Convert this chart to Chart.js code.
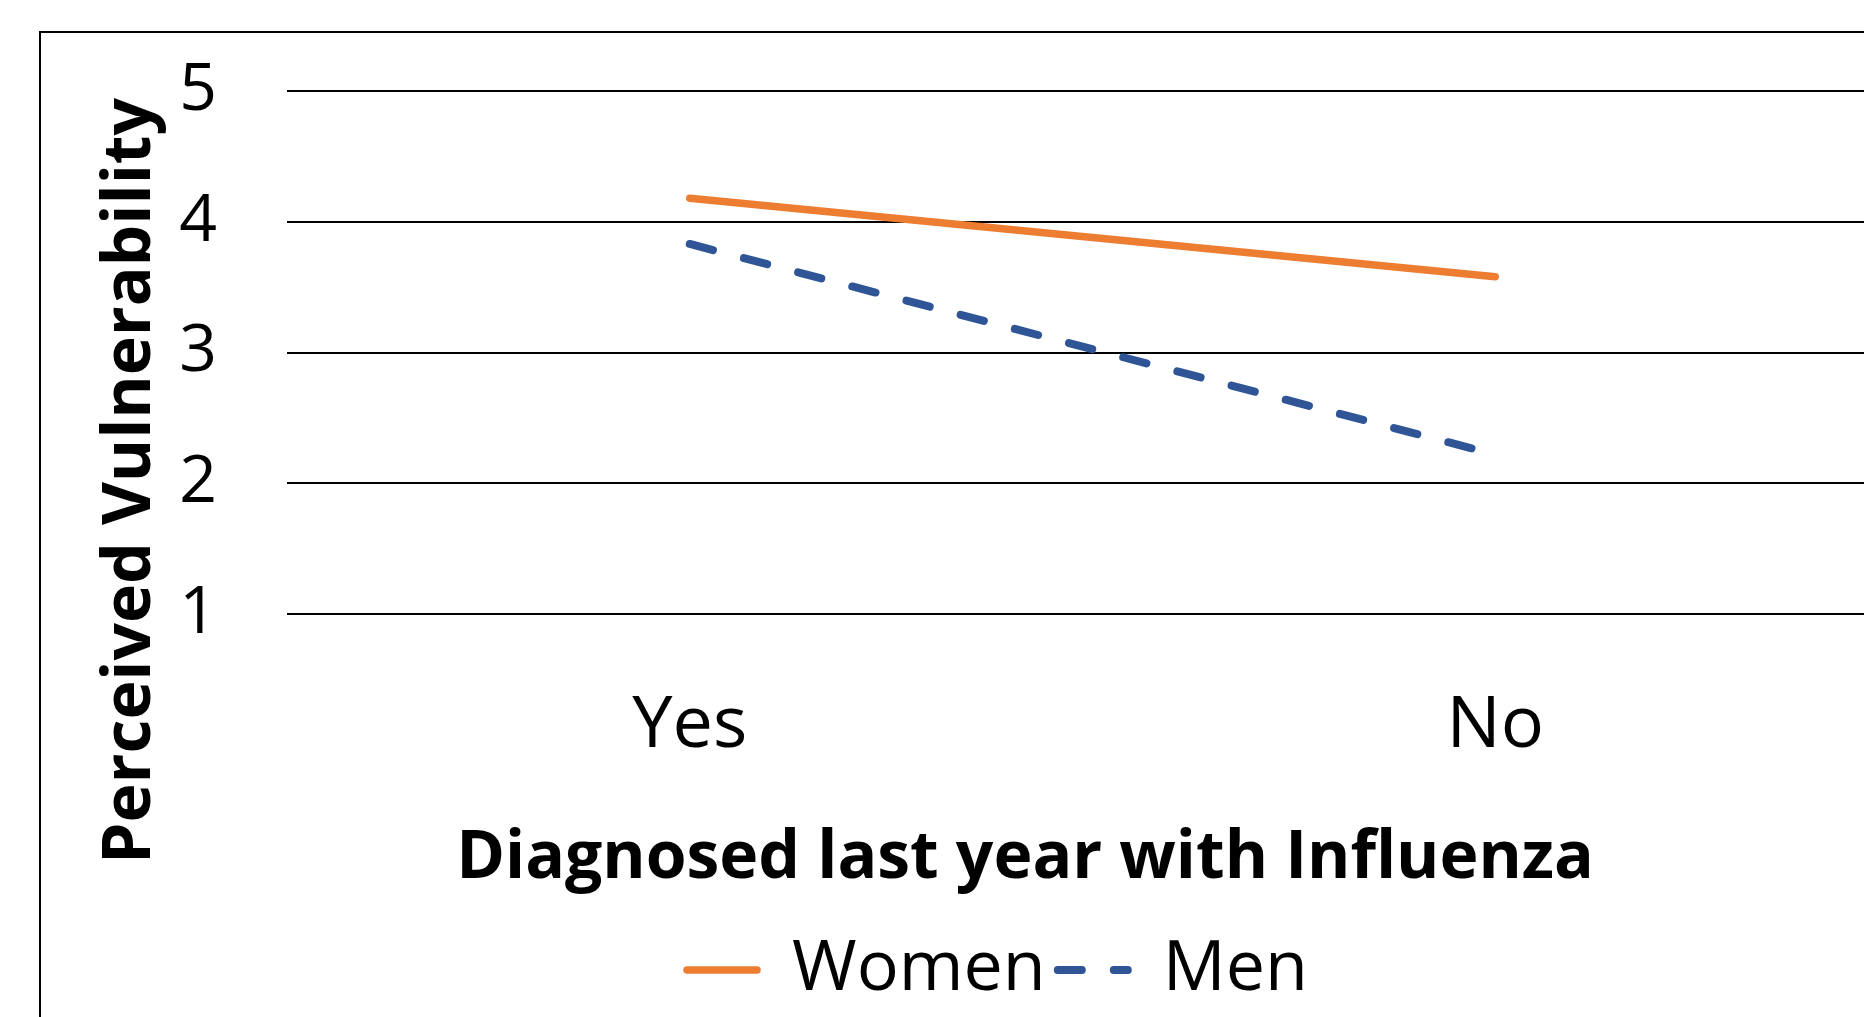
<!DOCTYPE html>
<html>
<head>
<meta charset="utf-8">
<script src="https://cdn.jsdelivr.net/npm/chart.js@4.4.0/dist/chart.umd.min.js"></script>
<style>
  html, body { margin: 0; padding: 0; background: #fff; overflow: hidden; }
  #box { position: absolute; left: 0; top: 0; width: 1960px; height: 1017px; }
</style>
</head>
<body>
<div id="box"><canvas id="chart"></canvas></div>
<script>
// data
const categories = ['Yes', 'No'];
const women = [4.18, 3.58];
const men = [3.83, 2.22];
const seriesNames = ['Women', 'Men'];
const yTicks = [1, 2, 3, 4, 5];
const xTitle = 'Diagnosed last year with Influenza';
const yTitle = 'Perceived Vulnerability';

const orange = '#ED7D31';
const blue = '#2F5597';
const font = 'Open Sans';

// frame around the chart + the two axis titles (placed like Excel does)
const extras = {
  id: 'extras',
  beforeDraw(chart) {
    let ctx = chart.ctx;
    ctx.save();
    ctx.strokeStyle = '#000';
    ctx.lineWidth = 2;
    ctx.strokeRect(40, 32, chart.width, chart.height);
    ctx.restore();
  },
  afterDraw(chart) {
    let ctx = chart.ctx;
    ctx.save();
    ctx.fillStyle = '#000';
    ctx.font = 'bold 66px "' + font + '"';
    ctx.textAlign = 'center';
    ctx.textBaseline = 'alphabetic';
    ctx.fillText(xTitle, 1025, 878);
    ctx.translate(150, 481);
    ctx.rotate(-Math.PI / 2);
    ctx.fillText(yTitle, 0, 0);
    ctx.restore();
  }
};

new Chart(document.getElementById('chart'), {
  type: 'line',
  data: {
    labels: categories,
    datasets: [
      {
        label: seriesNames[0],
        data: women,
        borderColor: orange,
        backgroundColor: orange,
        borderWidth: 7.5,
        borderCapStyle: 'round',
        pointRadius: 0,
        tension: 0
      },
      {
        label: seriesNames[1],
        data: men,
        borderColor: blue,
        backgroundColor: blue,
        borderWidth: 8,
        borderDash: [24, 32],
        borderCapStyle: 'round',
        pointRadius: 0,
        tension: 0
      }
    ]
  },
  options: {
    responsive: true,
    maintainAspectRatio: false,
    animation: false,
    layout: { padding: { left: 97, top: 91, right: 62, bottom: 2 } },
    scales: {
      x: {
        offset: true,
        grid: { display: false },
        border: { display: false },
        ticks: {
          color: '#000',
          padding: 61,
          maxRotation: 0,
          font: { family: font, size: 72 }
        },
        afterFit(scale) { scale.height = 309; }
      },
      y: {
        min: 1,
        max: 5,
        afterBuildTicks(scale) { scale.ticks = yTicks.map(v => ({ value: v })); },
        grid: { color: '#000', lineWidth: 2, drawTicks: false },
        border: { display: false },
        ticks: {
          color: '#000',
          padding: 70,
          font: { family: font, size: 66 }
        },
        // fixed width, and don't let the tick padding push the plot down
        afterFit(scale) {
          scale.width = 190;
          scale.paddingTop = 0;
          scale.paddingBottom = 0;
        }
      }
    },
    plugins: {
      tooltip: { enabled: false },
      legend: {
        position: 'bottom',
        labels: {
          usePointStyle: true,
          pointStyleWidth: 70,
          boxHeight: 7,
          padding: 12,
          color: '#000',
          font: { family: font, size: 70 },
          // take the line look from the datasets so the dash shows up
          generateLabels(chart) {
            return chart.data.datasets.map((ds, i) => ({
              text: ds.label,
              fillStyle: ds.borderColor,
              strokeStyle: ds.borderColor,
              lineWidth: ds.borderWidth,
              lineDash: ds.borderDash || [],
              lineDashOffset: 0,
              lineCap: 'round',
              pointStyle: 'line',
              fontColor: '#000',
              hidden: false,
              datasetIndex: i
            }));
          }
        }
      }
    }
  },
  plugins: [extras]
});
</script>
</body>
</html>
